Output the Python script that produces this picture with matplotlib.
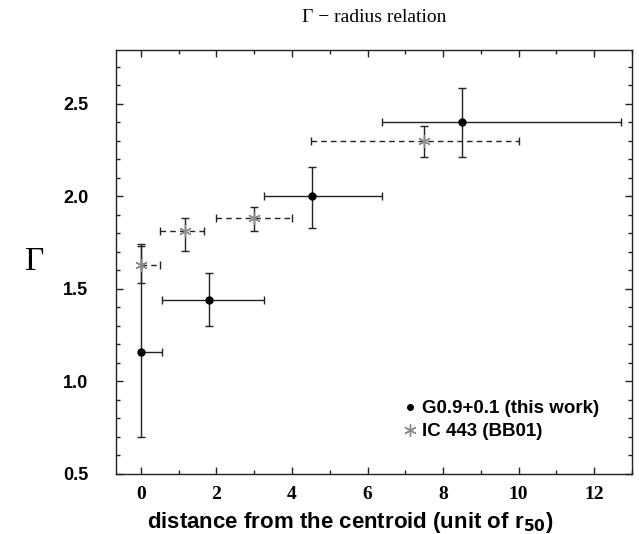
import matplotlib
matplotlib.use("Agg")
import matplotlib.pyplot as plt
from matplotlib.lines import Line2D
from matplotlib.ticker import MultipleLocator, FormatStrFormatter
import numpy as np

# G0.9+0.1 (this work)
g_x = [0.0, 1.79, 4.53, 8.5]
g_xlo = [0.0, 0.55, 3.25, 6.39]
g_xhi = [0.55, 3.25, 6.39, 12.72]
g_y = [1.16, 1.44, 2.00, 2.40]
g_ylo = [0.70, 1.30, 1.83, 2.21]
g_yhi = [1.74, 1.585, 2.16, 2.585]

# IC 443 (BB01)
ic_x = [0.0, 1.17, 3.0, 7.5]
ic_xlo = [0.0, 0.5, 2.0, 4.5]
ic_xhi = [0.5, 1.67, 4.0, 10.0]
ic_y = [1.63, 1.81, 1.88, 2.30]
ic_ylo = [1.53, 1.705, 1.81, 2.21]
ic_yhi = [1.73, 1.88, 1.94, 2.38]

labels = ["G0.9+0.1 (this work)", "IC 443 (BB01)"]

ink = "#222222"
star = (6, 2, 0)

fig = plt.figure(figsize=(6.39, 5.34), dpi=100)
ax = fig.add_axes([0.1815, 0.1124, 0.8075, 0.794])

def errs(c, lo, hi):
    c = np.array(c)
    return [c - np.array(lo), np.array(hi) - c]

eb = ax.errorbar(ic_x, ic_y, xerr=errs(ic_x, ic_xlo, ic_xhi), yerr=errs(ic_y, ic_ylo, ic_yhi),
                 fmt='none', ecolor=ink, elinewidth=1.0, capsize=2.6, capthick=1.0)
eb[2][0].set_linestyle((0, (4, 3)))
ax.plot(ic_x, ic_y, linestyle='none', marker=star, markersize=9, markeredgewidth=1.0,
        color='#8a8a8a', zorder=5)

ax.errorbar(g_x, g_y, xerr=errs(g_x, g_xlo, g_xhi), yerr=errs(g_y, g_ylo, g_yhi),
            fmt='o', color='black', markersize=5, ecolor=ink, elinewidth=1.0,
            capsize=2.6, capthick=1.0, zorder=4)

ax.set_xlim(-0.66, 13)
ax.set_ylim(0.5, 2.79)
ax.xaxis.set_major_locator(MultipleLocator(2))
ax.xaxis.set_minor_locator(MultipleLocator(1))
ax.yaxis.set_major_locator(MultipleLocator(0.5))
ax.yaxis.set_minor_locator(MultipleLocator(0.1))
ax.yaxis.set_major_formatter(FormatStrFormatter('%.1f'))
ax.tick_params(which='both', direction='in', top=True, right=True, color=ink, width=1.0)
ax.tick_params(which='major', length=5)
ax.tick_params(which='minor', length=3)
ax.tick_params(axis='y', pad=20, labelsize=13)
ax.tick_params(axis='x', pad=9, labelsize=14)
for s in ax.spines.values():
    s.set_color(ink)
    s.set_linewidth(1.0)

plt.setp(ax.get_yticklabels(), fontfamily='Liberation Sans', fontweight='bold')
plt.setp(ax.get_xticklabels(), fontfamily='Liberation Serif', fontweight='bold')

ax.set_xlabel("distance from the centroid (unit of r$_{\\mathbf{50}}$)", fontfamily='Liberation Sans',
              fontweight='bold', fontsize=16, labelpad=2)
ax.xaxis.set_label_coords(0.455, -0.085)
ax.set_ylabel("Γ", fontfamily='Liberation Serif', fontsize=24, rotation=0, labelpad=20,
              va='center')
ax.set_title("Γ − radius relation", fontfamily='Liberation Serif', fontsize=14, pad=20)

handles = [Line2D([], [], linestyle='none', marker='o', color='black', markersize=4),
           Line2D([], [], linestyle='none', marker=star, color='#8a8a8a', markersize=9)]
ax.legend(handles, labels, loc='lower right', bbox_to_anchor=(0.97, 0.04), frameon=False,
          handlelength=0.7, handletextpad=0.3, labelspacing=0.3,
          prop={'family': 'Liberation Sans', 'weight': 'bold', 'size': 13.5})

fig.savefig("out.png", dpi=100)
